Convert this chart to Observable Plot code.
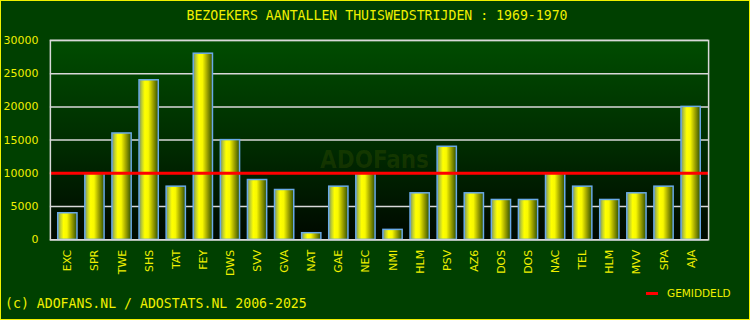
<!DOCTYPE html>
<html>
<head>
<meta charset="utf-8">
<script src="https://cdn.jsdelivr.net/npm/d3@7"></script>
<script src="https://cdn.jsdelivr.net/npm/@observablehq/plot@0.6"></script>
<style>
  html, body { margin: 0; padding: 0; background: #004000; }
  #wrap { position: relative; width: 748px; height: 318px; border: 1px solid #f0f000; background: #004000; overflow: hidden; }
  #wrap svg { position: absolute; left: -1px; top: -1px; }
  .title { position: absolute; left: 0; width: 752px; top: 7px; text-align: center; font: 13.2px "DejaVu Sans Mono", monospace; color: #f0f000; white-space: pre; }
  .caption { position: absolute; left: 4px; top: 295px; font: 13.2px "DejaVu Sans Mono", monospace; color: #f0f000; white-space: pre; }
  .legend { position: absolute; left: 645px; top: 286px; font: 10.5px "DejaVu Sans", sans-serif; color: #f0f000; display: flex; align-items: center; }
  .legend .sw { width: 12px; height: 3px; background: #ff0000; margin-right: 9px; }
</style>
</head>
<body>
<div id="wrap">
  <div class="title">BEZOEKERS AANTALLEN THUISWEDSTRIJDEN : 1969-1970</div>
  <div class="caption">(c) ADOFANS.NL / ADOSTATS.NL 2006-2025</div>
  <div class="legend"><span class="sw"></span><span>GEMIDDELD</span></div>
</div>
<script>
const teams = ["EXC","SPR","TWE","SHS","TAT","FEY","DWS","SVV","GVA","NAT","GAE","NEC","NMI","HLM","PSV","AZ6","DOS","DOS","NAC","TEL","HLM","MVV","SPA","AJA"];
const visitors = [4000,10000,16000,24000,8000,28000,15000,9000,7500,1000,8000,10000,1500,7000,14000,7000,6000,6000,10000,8000,6000,7000,8000,20000];
const yTicks = [0,5000,10000,15000,20000,25000,30000];
const average = [10000];

const data = teams.map((t, i) => ({i, team: t, value: visitors[i]}));

function defs() {
  const d = d3.create("svg:defs");
  const bar = d.append("linearGradient").attr("id", "barGrad").attr("x1", "0").attr("x2", "1").attr("y1", "0").attr("y2", "0");
  [["0%", "#7a9068"], ["15%", "#c0d030"], ["30%", "#ffff00"], ["48%", "#f8f800"], ["72%", "#a0a400"], ["100%", "#2f5000"]]
    .forEach(([o, c]) => bar.append("stop").attr("offset", o).attr("stop-color", c));
  const bg = d.append("linearGradient").attr("id", "bgGrad").attr("x1", "0").attr("x2", "0").attr("y1", "0").attr("y2", "1");
  [["0%", "#004c00"], ["55%", "#002a00"], ["100%", "#000800"]]
    .forEach(([o, c]) => bg.append("stop").attr("offset", o).attr("stop-color", c));
  return d.node();
}

const chart = Plot.plot({
  width: 750,
  height: 320,
  marginTop: 40,
  marginLeft: 50,
  marginRight: 40,
  marginBottom: 80,
  style: { background: "transparent", fontFamily: "DejaVu Sans, sans-serif", fontSize: "10px", overflow: "visible" },
  x: { type: "band", domain: d3.range(teams.length), padding: 0.29, round: false, label: null },
  y: { domain: [0, 30000], label: null },
  marks: [
    defs,
    Plot.frame({ fill: "url(#bgGrad)" }),
    Plot.text(["ADOFans"], { frameAnchor: "middle", dx: -5, dy: 20, fill: "#9aa000", fillOpacity: 0.13, fontSize: 24, fontWeight: "bold", fontFamily: "DejaVu Sans Condensed, sans-serif" }),
    Plot.gridY(yTicks, { stroke: "#d8d8d8", strokeOpacity: 1, strokeWidth: 1.5 }),
    Plot.barY(data, { x: "i", y: "value", fill: "url(#barGrad)", stroke: "#6aaae8", strokeWidth: 1.5 }),
    Plot.ruleY(average, { stroke: "#ff0000", strokeWidth: 3 }),
    Plot.frame({ stroke: "#d8d8d8", strokeWidth: 1.5, fill: "none" }),
    Plot.axisY(yTicks, { tickSize: 0, tickPadding: 12, fill: "#f0f000", fontSize: 11, label: null, tickFormat: d => String(d) }),
    Plot.axisX({ tickSize: 0, tickPadding: 10, tickRotate: -90, fill: "#f0f000", fontSize: 11, label: null, tickFormat: i => teams[i] })
  ]
});
document.getElementById("wrap").prepend(chart);
</script>
</body>
</html>
